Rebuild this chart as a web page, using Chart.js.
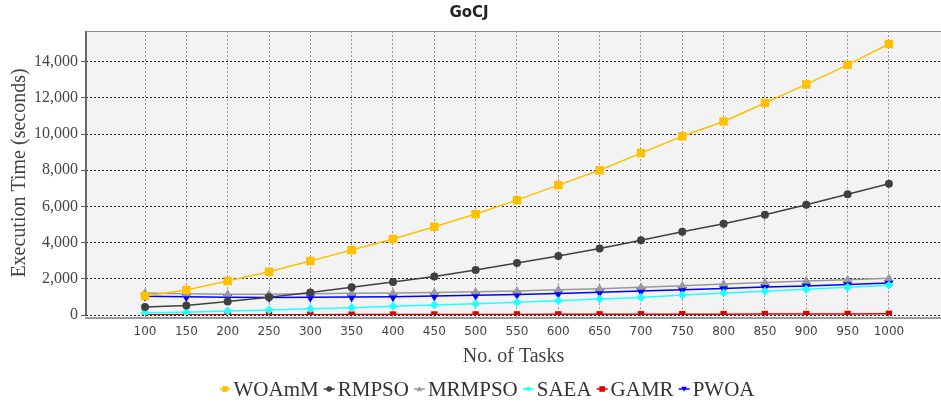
<!DOCTYPE html>
<html>
<head>
<meta charset="utf-8">
<script src="https://cdn.jsdelivr.net/npm/chart.js@4"></script>
<style>
  html, body { margin: 0; padding: 0; background: #fff; }
  #wrap { width: 941px; height: 403px; position: relative; }
</style>
</head>
<body>
<div id="wrap"><canvas id="chart"></canvas></div>
<script>
// data
const tasks = [100, 150, 200, 250, 300, 350, 400, 450, 500, 550, 600, 650, 700, 750, 800, 850, 900, 950, 1000];
const yTicks = [0, 2000, 4000, 6000, 8000, 10000, 12000, 14000];

const woamm  = [1050, 1380, 1880, 2390, 2980, 3590, 4200, 4880, 5580, 6350, 7180, 8000, 8950, 9880, 10700, 11720, 12750, 13830, 14980];
const rmpso  = [440, 530, 740, 980, 1250, 1530, 1820, 2130, 2490, 2870, 3260, 3680, 4130, 4600, 5040, 5540, 6090, 6670, 7260];
const mrmpso = [1220, 1180, 1150, 1150, 1170, 1200, 1220, 1250, 1280, 1330, 1390, 1450, 1540, 1620, 1710, 1790, 1880, 1950, 2030];
const saea   = [130, 150, 220, 280, 350, 400, 480, 550, 620, 700, 790, 880, 970, 1100, 1210, 1310, 1420, 1530, 1650];
const gamr   = [10, 12, 15, 18, 20, 22, 25, 28, 30, 33, 36, 38, 42, 45, 48, 52, 55, 60, 65];
const pwoa   = [1030, 1010, 980, 970, 980, 990, 1010, 1050, 1090, 1130, 1190, 1260, 1330, 1400, 1470, 1550, 1610, 1680, 1770];

function pts(vals) {
    return vals.map((v, i) => ({ x: tasks[i], y: v }));
}

function series(label, vals, color, style, radius, rotation) {
    return {
        label: label,
        data: pts(vals),
        borderColor: color,
        backgroundColor: color,
        borderWidth: 1.5,
        pointStyle: style,
        pointRadius: radius,
        pointRotation: rotation || 0,
        pointBorderWidth: 0,
        pointHoverRadius: radius,
        tension: 0
    };
}

const datasets = [
    series('WOAmM', woamm, '#ffc000', 'rect', 6),
    series('RMPSO', rmpso, '#404040', 'circle', 4),
    series('MRMPSO', mrmpso, '#999999', 'triangle', 5),
    series('SAEA', saea, '#22ffff', 'rectRot', 4.5),
    series('GAMR', gamr, '#e00000', 'rect', 4.5),
    series('PWOA', pwoa, '#0000ff', 'triangle', 5.5, 180)
];

// small marker for the legend
function marker(ctx, style, x, y, r, rot) {
    ctx.beginPath();
    if (style === 'circle') {
        ctx.arc(x, y, r, 0, Math.PI * 2);
    } else if (style === 'rect') {
        ctx.rect(x - r, y - r, r * 2, r * 2);
    } else if (style === 'rectRot') {
        ctx.moveTo(x, y - r); ctx.lineTo(x + r, y); ctx.lineTo(x, y + r); ctx.lineTo(x - r, y);
    } else if (style === 'triangle') {
        const s = rot === 180 ? -1 : 1;
        ctx.moveTo(x, y - r * s); ctx.lineTo(x + r, y + r * 0.8 * s); ctx.lineTo(x - r, y + r * 0.8 * s);
    }
    ctx.closePath();
    ctx.fill();
}

const framePlugin = {
    id: 'frame',
    beforeDraw(chart) {
        const { ctx, chartArea: a } = chart;
        ctx.save();
        ctx.fillStyle = '#ffffff';
        ctx.fillRect(0, 0, chart.width, chart.height);
        ctx.fillStyle = '#f3f3f3';
        ctx.fillRect(a.left, a.top, a.right - a.left, a.bottom - a.top);
        ctx.restore();
    },
    afterDraw(chart) {
        const { ctx, chartArea: a } = chart;
        ctx.save();
        // frame lines
        ctx.strokeStyle = '#666';
        ctx.lineWidth = 2;
        ctx.beginPath();
        ctx.moveTo(a.left, a.top); ctx.lineTo(a.left, a.bottom);
        ctx.stroke();
        ctx.strokeStyle = '#888';
        ctx.lineWidth = 1;
        ctx.beginPath();
        ctx.moveTo(a.left, a.top + 0.5); ctx.lineTo(a.right, a.top + 0.5);
        ctx.stroke();
        ctx.lineWidth = 2;
        ctx.strokeStyle = '#999';
        ctx.beginPath();
        ctx.moveTo(a.left - 1, a.bottom + 3); ctx.lineTo(a.right, a.bottom + 3);
        ctx.stroke();

        // title
        ctx.fillStyle = '#222';
        ctx.font = 'bold 15px "DejaVu Sans"';
        ctx.textAlign = 'center';
        ctx.textBaseline = 'middle';
        ctx.fillText('GoCJ', 469, 13);

        // legend
        ctx.font = '21px "Liberation Serif"';
        ctx.textAlign = 'left';
        const mw = 11, gap = 3, sep = 5;
        const items = chart.data.datasets.map(d => ({ d: d, w: mw + gap + ctx.measureText(d.label).width }));
        const total = items.reduce((s, it) => s + it.w, 0) + sep * (items.length - 1);
        let x = 487 - total / 2;
        const y = 389;
        items.forEach(it => {
            const d = it.d;
            ctx.strokeStyle = d.borderColor;
            ctx.fillStyle = d.borderColor;
            ctx.lineWidth = 1.5;
            ctx.beginPath();
            ctx.moveTo(x, y); ctx.lineTo(x + mw, y);
            ctx.stroke();
            marker(ctx, d.pointStyle, x + mw / 2, y, 2.8, d.pointRotation);
            ctx.fillStyle = '#333';
            ctx.fillText(d.label, x + mw + gap, y + 1);
            x += it.w + sep;
        });
        ctx.restore();
    }
};

const ctx = document.getElementById('chart').getContext('2d');
const chart = new Chart(ctx, {
    type: 'line',
    data: { datasets: datasets },
    options: {
        responsive: true,
        maintainAspectRatio: false,
        devicePixelRatio: 1,
        animation: false,
        layout: { autoPadding: false, padding: { top: 31, right: 0, left: 0, bottom: 0 } },
        plugins: {
            legend: { display: false },
            title: { display: false },
            tooltip: { enabled: false }
        },
        scales: {
            x: {
                type: 'linear',
                min: 28.6,
                max: 1063,
                afterBuildTicks: s => { s.ticks = tasks.map(v => ({ value: v })); },
                afterFit: s => { s.height = 88; },
                grid: { color: '#999', lineWidth: 1, tickLength: 4, tickColor: '#999' },
                border: { display: false, dash: [2, 2] },
                ticks: {
                    padding: 6,
                    autoSkip: false,
                    maxRotation: 0,
                    color: '#444',
                    font: { family: 'DejaVu Sans', size: 12 },
                    callback: v => String(v)
                },
                title: {
                    display: true,
                    text: 'No. of Tasks',
                    color: '#444',
                    font: { family: 'Liberation Serif', size: 20 },
                    padding: { top: 0, bottom: 34 }
                }
            },
            y: {
                min: 0,
                max: 15700,
                afterBuildTicks: s => { s.ticks = yTicks.map(v => ({ value: v })); },
                afterFit: s => { s.width = 86; },
                grid: { color: '#222', lineWidth: 1, tickLength: 5, tickColor: '#555' },
                border: { display: false, dash: [2, 2] },
                ticks: {
                    padding: 3,
                    color: '#444',
                    font: { family: 'Liberation Serif', size: 16 },
                    callback: v => v.toLocaleString('en-US')
                },
                title: {
                    display: true,
                    text: 'Execution Time (seconds)',
                    color: '#444',
                    font: { family: 'Liberation Serif', size: 20 },
                    padding: { top: 8, bottom: 0 }
                }
            }
        }
    },
    plugins: [framePlugin]
});
</script>
</body>
</html>
